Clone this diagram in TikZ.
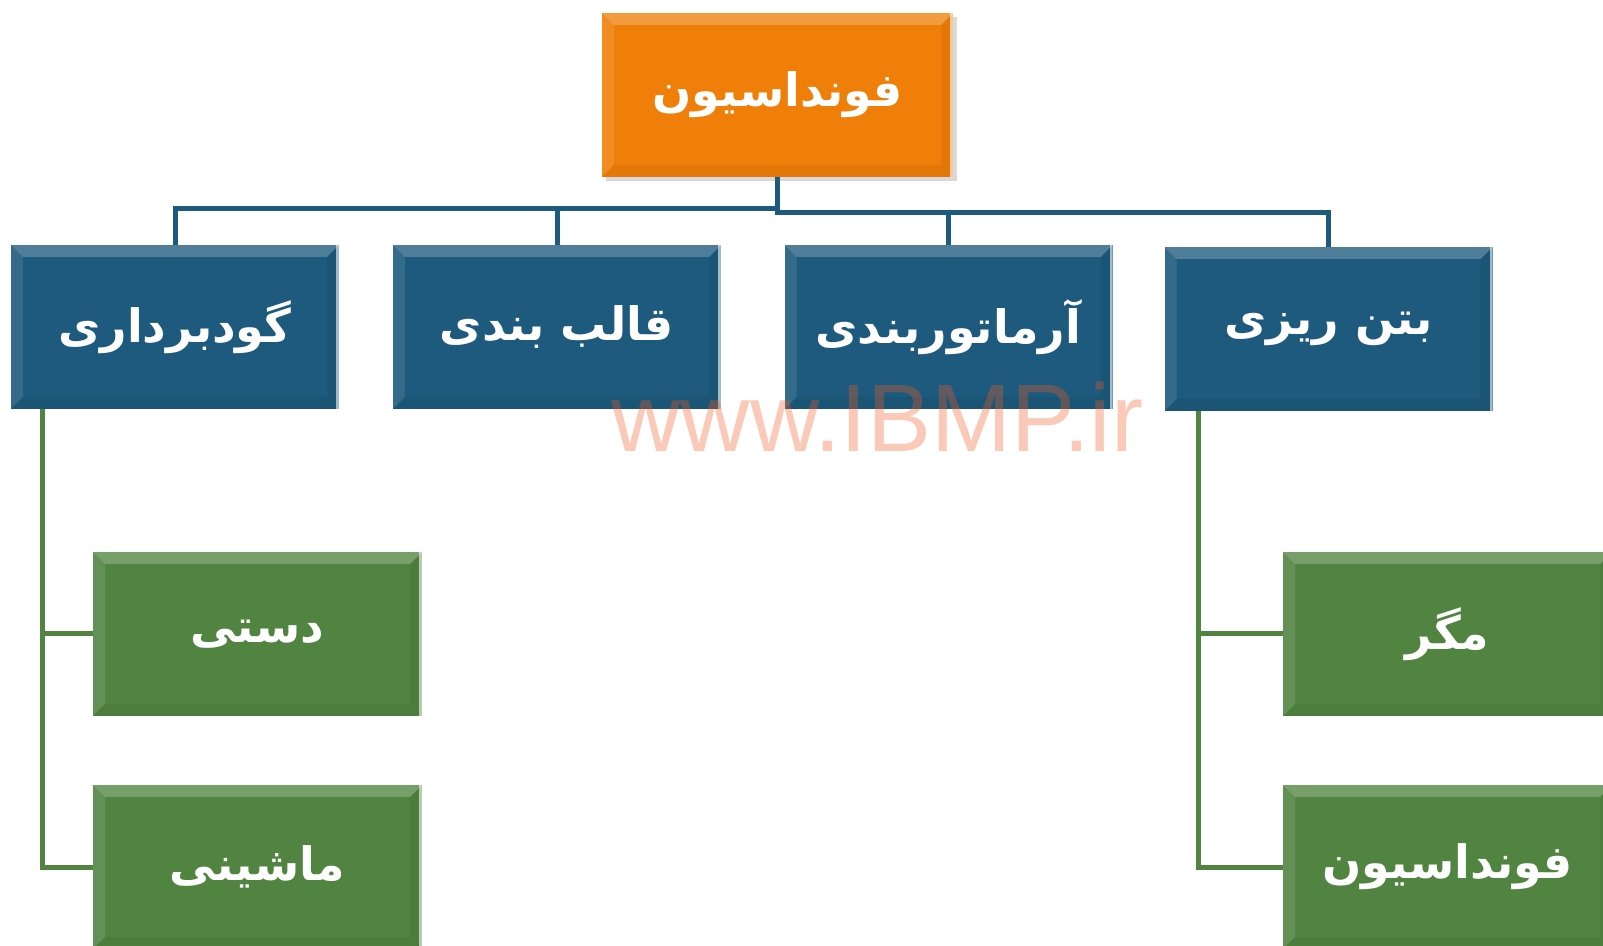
\documentclass[tikz,border=0pt]{standalone}
\usepackage{fontspec}
\setmainfont{Liberation Sans}
\TeXXeTstate=1
\newfontfamily\arabicfont[Script=Arabic]{DejaVu Sans}
\usetikzlibrary{positioning, shadows}
\definecolor{rootorange}{HTML}{F07F09}
\definecolor{branchblue}{HTML}{1D5A7D}
\definecolor{leafgreen}{HTML}{528441}
\definecolor{markred}{HTML}{F25A24}
\newcommand{\faText}[1]{\arabicfont\bfseries\beginR #1\endR}
\def\ppbb{path picture bounding box}

\begin{document}
\begin{tikzpicture}[x=0.5pt, y=-0.5pt,
  bevel/.style={path picture={
    \fill[white, opacity=.22] (\ppbb.north west) -- (\ppbb.north east) -- ([shift={(-6pt,-6pt)}]\ppbb.north east) -- ([shift={(6pt,-6pt)}]\ppbb.north west) -- cycle;
    \fill[white, opacity=.10] (\ppbb.north west) -- ([shift={(6pt,-6pt)}]\ppbb.north west) -- ([shift={(6pt,6pt)}]\ppbb.south west) -- (\ppbb.south west) -- cycle;
    \fill[black, opacity=.05] (\ppbb.south west) -- ([shift={(6pt,6pt)}]\ppbb.south west) -- ([shift={(-6pt,6pt)}]\ppbb.south east) -- (\ppbb.south east) -- cycle;
    \fill[black, opacity=.05] (\ppbb.north east) -- ([shift={(-6pt,-6pt)}]\ppbb.north east) -- ([shift={(-6pt,6pt)}]\ppbb.south east) -- (\ppbb.south east) -- cycle;
    \draw[white, opacity=.6, line width=1.5pt] ([xshift=-0.75pt]\ppbb.north east) -- ([xshift=-0.75pt]\ppbb.south east);
  }},
  root/.style={rectangle, fill=rootorange, minimum width=175.5pt, minimum height=82pt, inner sep=0pt, text=white, font=\fontsize{23}{28}\selectfont, bevel, drop shadow={opacity=.3, shadow xshift=2pt, shadow yshift=-2pt}},
  branch/.style={rectangle, fill=branchblue, minimum width=164pt, minimum height=82pt, inner sep=0pt, text=white, font=\fontsize{23}{28}\selectfont, bevel},
  leaf/.style={rectangle, fill=leafgreen, minimum width=164.5pt, minimum height=82pt, inner sep=0pt, text=white, font=\fontsize{23}{28}\selectfont, bevel},
  tree/.style={draw=branchblue, line width=2.5pt},
  leafline/.style={draw=leafgreen, line width=2.5pt},
  watermark/.style={text=markred, text opacity=.33, inner sep=0pt, font=\fontsize{48}{52}\selectfont}
]
  \useasboundingbox (0,0) rectangle (1603,946);
  \clip (0,0) rectangle (1603,946);

  \node[root] (r) at (777.5,95) {\faText{فونداسیون}};
  \node[branch] (b1) at (175,327) {\faText{گودبرداری}};
  \node[branch] (b2) at (557,327) {\faText{قالب بندی}};
  \node[branch] (b3) at (948.5,327) {\faText{آرماتوربندی}};
  \node[branch] (b4) at (1328.5,329) {\faText{بتن ریزی}};
  \node[leaf] (l1) at (257.5,634) {\faText{دستی}};
  \node[leaf] (l2) at (257.5,867) {\faText{ماشینی}};
  \node[leaf] (l3) at (1447.5,634) {\faText{مگر}};
  \node[leaf] (l4) at (1447.5,867) {\faText{فونداسیون}};

  \coordinate (barl) at (0,209);
  \coordinate (barr) at (0,213);
  \draw[tree] (r.south) -- (r.south |- barl) -| (b1.north);
  \draw[tree] (r.south |- barl) -| (b2.north);
  \draw[tree] (r.south) -- (r.south |- barr) -| (b3.north);
  \draw[tree] (r.south |- barr) -| (b4.north);

  \coordinate (g1) at ([xshift=16pt]b1.south west);
  \coordinate (g4) at ([xshift=17pt]b4.south west);
  \draw[leafline] (g1) |- (l1.west);
  \draw[leafline] (g1) |- (l2.west);
  \draw[leafline] (g4) |- (l3.west);
  \draw[leafline] (g4) |- (l4.west);

  \node[watermark, anchor=base west] (wm) at (611,452) {www.IBMP.ir};
\end{tikzpicture}
\end{document}
